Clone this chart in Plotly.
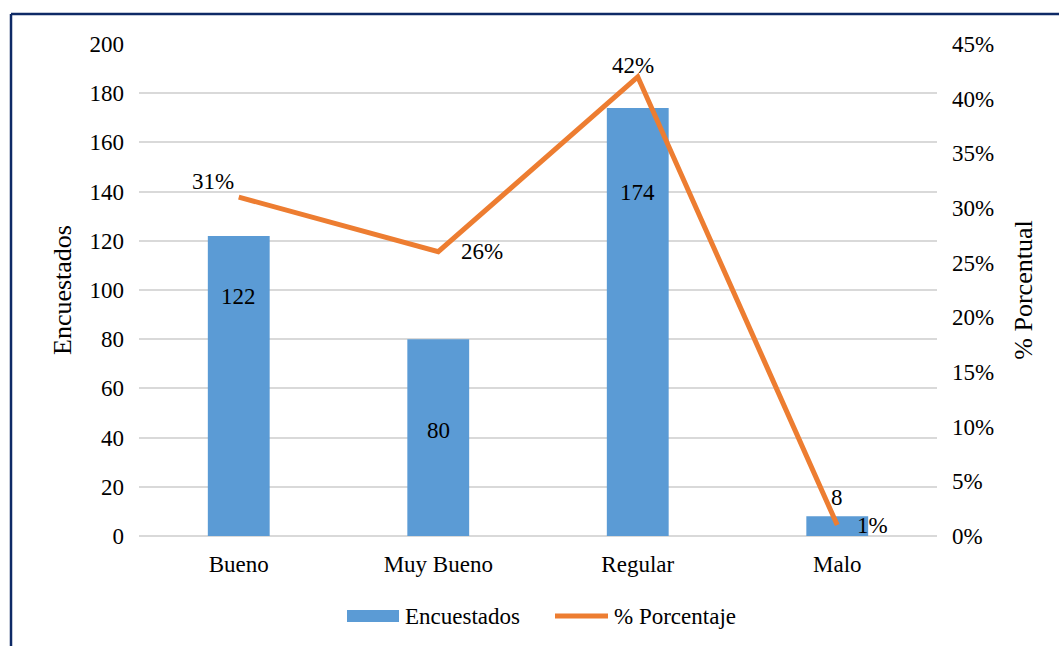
import plotly.graph_objects as go

categorias = ["Bueno", "Muy Bueno", "Regular", "Malo"]
encuestados = [122, 80, 174, 8]
porcentaje = [0.31, 0.26, 0.42, 0.01]
serie_barras = "Encuestados"
serie_linea = "% Porcentaje"

# pixel offsets for the data labels (bar labels, then line labels)
bar_label_shift = [-61, -91, -85, 19]
pct_label_shift = [(-26, 16), (44, 0), (-5, 11), (35, 0)]

FONT = "Liberation Serif, Times New Roman, serif"
FS = 23
AZUL = "#5B9BD5"
NARANJA = "#ED7D31"

fig = go.Figure()
fig.add_trace(go.Bar(
    x=categorias, y=encuestados, name=serie_barras, showlegend=False,
    marker=dict(color=AZUL, line=dict(width=0)), yaxis="y",
))
fig.add_trace(go.Scatter(
    x=categorias, y=porcentaje, name=serie_linea, mode="lines", showlegend=False,
    line=dict(color=NARANJA, width=5), yaxis="y2",
))

txt = dict(family=FONT, size=FS, color="#000")
titulo = dict(family=FONT, size=26, color="#000")
annotations = []
for c, v, s in zip(categorias, encuestados, bar_label_shift):
    annotations.append(dict(x=c, y=v, xref="x", yref="y", text=str(v),
                            showarrow=False, yshift=s, font=txt))
for c, p, (dx, dy) in zip(categorias, porcentaje, pct_label_shift):
    annotations.append(dict(x=c, y=p, xref="x", yref="y2", text=f"{round(p*100)}%",
                            showarrow=False, xshift=dx, yshift=dy, font=txt))

# plot area in pixels
L, T, W, H = 139, 44, 798, 492
def px(x):
    return (x - L) / W
def py(y):
    return (T + H - y) / H

# frame border around the chart area
bx, by = px(11), py(14)
shapes = [
    dict(type="line", xref="paper", yref="paper", x0=bx, x1=bx, y0=-0.5, y1=by,
         line=dict(color="#0E2A66", width=2.5)),
    dict(type="line", xref="paper", yref="paper", x0=bx, x1=1.3, y0=by, y1=by,
         line=dict(color="#0E2A66", width=2.5)),
    # legend keys
    dict(type="rect", xref="paper", yref="paper", x0=px(347), x1=px(399),
         y0=py(622), y1=py(610), fillcolor=AZUL, line=dict(width=0)),
    dict(type="line", xref="paper", yref="paper", x0=px(555), x1=px(608),
         y0=py(616), y1=py(616), line=dict(color=NARANJA, width=5)),
]
annotations += [
    dict(xref="paper", yref="paper", x=px(403), y=py(616), xanchor="left", yanchor="middle",
         text=serie_barras, showarrow=False, font=txt),
    dict(xref="paper", yref="paper", x=px(612), y=py(616), xanchor="left", yanchor="middle",
         text=serie_linea, showarrow=False, font=txt),
]

fig.update_layout(
    width=1059, height=646,
    margin=dict(l=L, r=1059 - L - W, t=T, b=646 - T - H, autoexpand=False),
    paper_bgcolor="white", plot_bgcolor="white",
    font=txt,
    bargap=0.69,
    showlegend=False,
    xaxis=dict(showline=False, ticks="", showgrid=False, ticklabelstandoff=12,
               automargin=False, tickfont=txt),
    yaxis=dict(range=[0, 200], dtick=20, showgrid=True, gridcolor="#D9D9D9", gridwidth=1.5,
               zeroline=True, zerolinecolor="#D9D9D9", zerolinewidth=1.5,
               ticklabelstandoff=14, automargin=False, tickfont=txt,
               title=dict(text="Encuestados", standoff=10, font=titulo)),
    yaxis2=dict(range=[0, 0.45], dtick=0.05, tickformat=".0%", overlaying="y",
                side="right", showgrid=False, zeroline=False, ticklabelstandoff=14,
                automargin=False, tickfont=txt,
                title=dict(text="% Porcentual", standoff=20, font=titulo)),
    annotations=annotations,
    shapes=shapes,
)

fig.write_html("out.html")
